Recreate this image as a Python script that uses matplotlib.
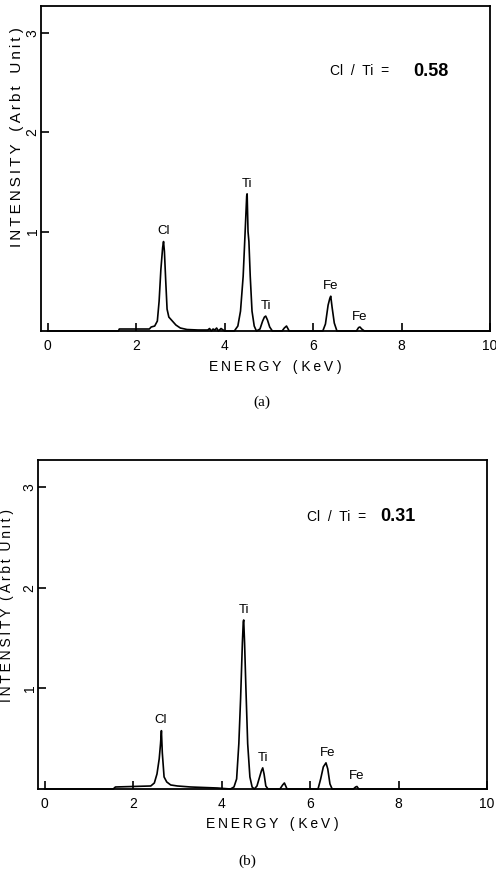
import matplotlib
matplotlib.use('Agg')
import matplotlib.pyplot as plt

plt.rcParams['font.family'] = ['Liberation Sans', 'DejaVu Sans']

# ── (a) Cl/Ti = 0.58 ──────────────────────────────
energy_a = [0.0, 1.60, 1.62, 2.30, 2.34, 2.42, 2.48, 2.52, 2.56, 2.60, 2.62,
            2.64, 2.67, 2.70, 2.74, 2.80, 2.90, 3.00, 3.15, 3.40, 3.62,
            3.66, 3.70, 3.74, 3.78, 3.82, 3.86, 3.92, 4.00, 4.22, 4.30,
            4.36, 4.42, 4.46, 4.50, 4.51, 4.53, 4.55, 4.58, 4.62, 4.67,
            4.72, 4.80, 4.86, 4.90, 4.93, 4.97, 5.02, 5.08, 5.30, 5.35,
            5.40, 5.46, 6.22, 6.28, 6.34, 6.38, 6.40, 6.43, 6.48, 6.54,
            6.98, 7.03, 7.06, 7.10, 7.16, 10.0]
counts_a = [0.0, 0.0, 0.02, 0.02, 0.04, 0.05, 0.10, 0.30, 0.62, 0.84, 0.90,
            0.80, 0.50, 0.22, 0.14, 0.11, 0.06, 0.03, 0.015, 0.01, 0.01,
            0.025, 0.0, 0.02, 0.01, 0.03, 0.0, 0.025, 0.0, 0.0, 0.05,
            0.20, 0.55, 0.95, 1.36, 1.38, 1.0, 0.90, 0.55, 0.20, 0.05,
            0.0, 0.02, 0.10, 0.14, 0.15, 0.11, 0.04, 0.0, 0.0, 0.03,
            0.05, 0.0, 0.0, 0.07, 0.26, 0.33, 0.35, 0.24, 0.08, 0.0,
            0.0, 0.035, 0.04, 0.02, 0.0, 0.0]

# ── (b) Cl/Ti = 0.31 ──────────────────────────────
energy_b = [0.0, 1.55, 1.60, 2.40, 2.48, 2.54, 2.59, 2.62, 2.64, 2.66, 2.70,
            2.76, 2.85, 3.00, 3.30, 3.90, 4.20, 4.28, 4.34, 4.39, 4.43,
            4.47, 4.49, 4.50, 4.52, 4.55, 4.59, 4.64, 4.69, 4.74, 4.80,
            4.86, 4.90, 4.93, 4.96, 5.00, 5.05, 5.32, 5.38, 5.42, 5.48,
            6.18, 6.24, 6.30, 6.36, 6.40, 6.45, 6.50, 6.98, 7.03, 7.06,
            7.10, 10.0]
counts_b = [0.0, 0.0, 0.02, 0.03, 0.06, 0.15, 0.30, 0.45, 0.58, 0.36, 0.12,
            0.07, 0.04, 0.03, 0.02, 0.01, 0.0, 0.02, 0.10, 0.45, 0.90,
            1.45, 1.66, 1.68, 1.45, 1.00, 0.45, 0.12, 0.02, 0.0, 0.03,
            0.12, 0.18, 0.21, 0.15, 0.03, 0.0, 0.0, 0.04, 0.06, 0.0,
            0.0, 0.10, 0.22, 0.26, 0.20, 0.05, 0.0, 0.0, 0.02, 0.025,
            0.0, 0.0]

peak_names = ['Cl', 'Ti', 'Ti', 'Fe', 'Fe']
peak_keV = [2.62, 4.51, 4.93, 6.40, 7.06]

ratio_a = 0.58
ratio_b = 0.31

x_ticks = [0, 2, 4, 6, 8, 10]
y_ticks = [1, 2, 3]


def spaced(s):
    # 原图字母间距较宽
    return '\u2009'.join(s)


def draw_panel(ax, energy, counts, ratio, ratio_pos, value_x):
    ax.plot(energy, counts, color='black', lw=1.2, clip_on=False)
    ax.set_xlim(-0.15, 10)
    ax.set_ylim(0, 3.27)
    ax.set_xticks(x_ticks)
    ax.set_xticklabels([str(t) for t in x_ticks])
    ax.set_yticks(y_ticks)
    ax.set_yticklabels([str(t) for t in y_ticks], rotation=90, va='center')
    ax.tick_params(axis='x', direction='in', length=6, width=1.2,
                   pad=6, labelsize=10)
    ax.tick_params(axis='y', direction='in', length=6, width=1.2,
                   pad=1, labelsize=10)
    for sp in ax.spines.values():
        sp.set_linewidth(1.3)

    # 峰标注
    for name, e in zip(peak_names, peak_keV):
        top = max(c for x, c in zip(energy, counts) if abs(x - e) < 0.06)
        ax.annotate(name, (e, top), xytext=(0, 3), textcoords='offset points',
                    ha='center', va='bottom', fontsize=9.5)

    ax.text(ratio_pos[0], ratio_pos[1], 'Cl  /  Ti  =', transform=ax.transAxes,
            ha='left', va='center', fontsize=10)
    ax.text(value_x, ratio_pos[1], f'{ratio:.2f}', transform=ax.transAxes,
            ha='left', va='center', fontsize=13, fontweight='bold')


fig = plt.figure(figsize=(4.96, 8.71), dpi=100)
W, H = 496, 871

ax_a = fig.add_axes([41 / W, 1 - 331 / H, 449 / W, 325 / H])
ax_b = fig.add_axes([38 / W, 1 - 789 / H, 449 / W, 329 / H])

draw_panel(ax_a, energy_a, counts_a, ratio_a, (0.644, 0.80), 0.829)
draw_panel(ax_b, energy_b, counts_b, ratio_b, (0.599, 0.827), 0.762)

ylab_a = spaced('INTENSITY') + '   ( ' + spaced('Arbt') + '   ' + spaced('Unit') + ' )'
ylab_b = spaced('INTENSITY') + '  ( ' + spaced('Arbt') + '  ' + spaced('Unit') + ' )'
xlab = spaced('ENERGY') + '   ( ' + spaced('KeV') + ' )'

fig.text(17 / W, 1 - 137 / H, ylab_a, rotation=90, ha='center', va='center', fontsize=11)
fig.text(275 / W, 1 - 367 / H, xlab, ha='center', va='center', fontsize=10)
fig.text(262 / W, 1 - 402 / H, '(a)', ha='center', va='center', fontsize=11,
         family='Liberation Serif')

fig.text(7 / W, 1 - 605 / H, ylab_b, rotation=90, ha='center', va='center', fontsize=10)
fig.text(272 / W, 1 - 824 / H, xlab, ha='center', va='center', fontsize=10)
fig.text(247 / W, 1 - 861 / H, '(b)', ha='center', va='center', fontsize=11,
         family='Liberation Serif')

fig.savefig('out.png', dpi=100)
